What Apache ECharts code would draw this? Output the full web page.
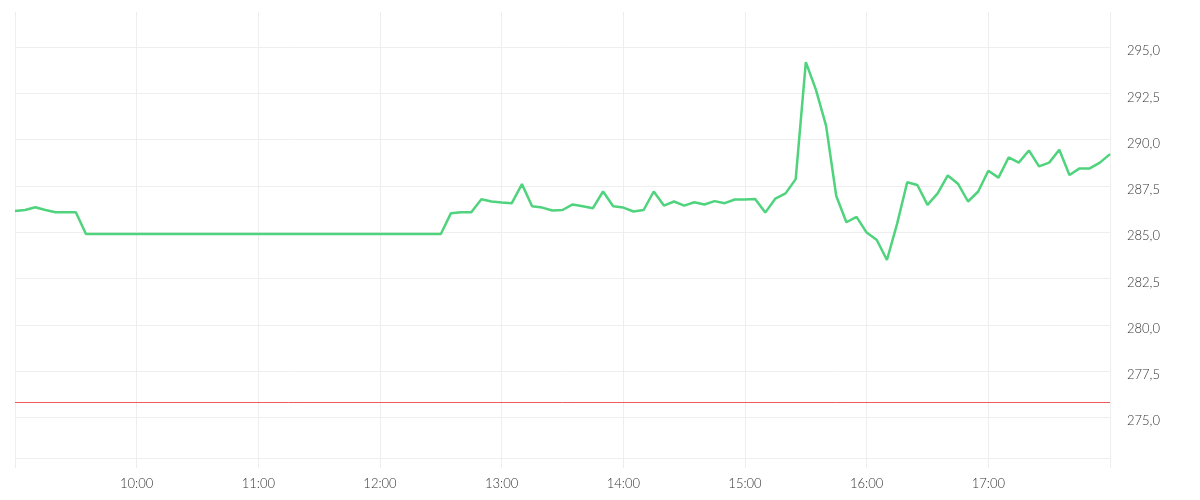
<!DOCTYPE html>
<html>
<head>
<meta charset="utf-8">
<script src="https://cdn.jsdelivr.net/npm/echarts@6/dist/echarts.min.js"></script>
<style>html,body{margin:0;padding:0;background:#fff}#chart{width:1200px;height:500px}</style>
</head>
<body>
<div id="chart"></div>
<script>
// Time categories, 5-minute steps from 09:00 to 18:00
const times = [
"09:00","09:05","09:10","09:15","09:20","09:25","09:30","09:35","09:40","09:45","09:50","09:55",
"10:00","10:05","10:10","10:15","10:20","10:25","10:30","10:35","10:40","10:45","10:50","10:55",
"11:00","11:05","11:10","11:15","11:20","11:25","11:30","11:35","11:40","11:45","11:50","11:55",
"12:00","12:05","12:10","12:15","12:20","12:25","12:30","12:35","12:40","12:45","12:50","12:55",
"13:00","13:05","13:10","13:15","13:20","13:25","13:30","13:35","13:40","13:45","13:50","13:55",
"14:00","14:05","14:10","14:15","14:20","14:25","14:30","14:35","14:40","14:45","14:50","14:55",
"15:00","15:05","15:10","15:15","15:20","15:25","15:30","15:35","15:40","15:45","15:50","15:55",
"16:00","16:05","16:10","16:15","16:20","16:25","16:30","16:35","16:40","16:45","16:50","16:55",
"17:00","17:05","17:10","17:15","17:20","17:25","17:30","17:35","17:40","17:45","17:50","17:55",
"18:00"
];
// Price values
const prices = [
286.15,286.2,286.35,286.2,286.08,286.08,286.08,284.9,284.9,284.9,284.9,284.9,
284.9,284.9,284.9,284.9,284.9,284.9,284.9,284.9,284.9,284.9,284.9,284.9,
284.9,284.9,284.9,284.9,284.9,284.9,284.9,284.9,284.9,284.9,284.9,284.9,
284.9,284.9,284.9,284.9,284.9,284.9,284.9,286.03,286.08,286.08,286.78,286.66,
286.6,286.57,287.6,286.4,286.33,286.17,286.2,286.5,286.4,286.3,287.2,286.4,
286.33,286.12,286.2,287.2,286.44,286.66,286.44,286.62,286.5,286.68,286.57,286.77,
286.77,286.8,286.06,286.82,287.1,287.87,294.19,292.69,290.75,286.96,285.54,285.83,
284.98,284.58,283.5,285.45,287.7,287.55,286.48,287.1,288.07,287.62,286.66,287.2,
288.32,287.95,289.04,288.76,289.42,288.56,288.76,289.46,288.09,288.45,288.45,288.76,
289.22
];
// Reference (previous close) level
const referenceLevel = 275.8;
// Y axis range and step
const yMin = 272.8;
const yMax = 296.9;
const yStep = 2.5;

const gridColor = '#eeeeee';
const labelFont = {color: '#333', fontFamily: 'Lato', fontWeight: 300, fontSize: 13};
const chart = echarts.init(document.getElementById('chart'), null, {renderer: 'canvas'});
chart.setOption({
  animation: false,
  backgroundColor: '#ffffff',
  grid: {left: 15, right: 90, top: 12, bottom: 42, containLabel: false},
  xAxis: {
    type: 'category',
    data: times,
    boundaryGap: false,
    axisLine: {show: true, lineStyle: {color: gridColor, width: 1}},
    axisTick: {show: true, interval: 11, length: 10, lineStyle: {color: gridColor}},
    splitLine: {show: true, interval: 11, lineStyle: {color: gridColor}},
    axisLabel: Object.assign({
      interval: 11,
      margin: 19,
      formatter: function (v, i) { return (i === 0 || i === times.length - 1) ? '' : v; }
    }, labelFont)
  },
  yAxis: {
    type: 'value',
    position: 'right',
    min: yMin,
    max: yMax,
    splitNumber: 10,
    minInterval: yStep,
    maxInterval: yStep,
    axisLine: {show: false},
    axisTick: {show: false},
    splitLine: {show: true, showMinLine: false, showMaxLine: false, lineStyle: {color: gridColor}},
    axisLabel: Object.assign({
      showMinLabel: false,
      showMaxLabel: false,
      margin: 17,
      verticalAlign: 'top',
      lineHeight: 8,
      formatter: function (v) { return v.toFixed(1).replace('.', ','); }
    }, labelFont)
  },
  series: [{
    type: 'line',
    data: prices,
    symbol: 'none',
    lineStyle: {color: '#4fd37d', width: 2.5},
    itemStyle: {color: '#4fd37d'},
    markLine: {
      silent: true,
      symbol: ['none', 'none'],
      label: {show: false},
      lineStyle: {color: '#f05a5f', width: 1, type: 'solid'},
      data: [{yAxis: referenceLevel}]
    }
  }]
});
</script>
</body>
</html>
